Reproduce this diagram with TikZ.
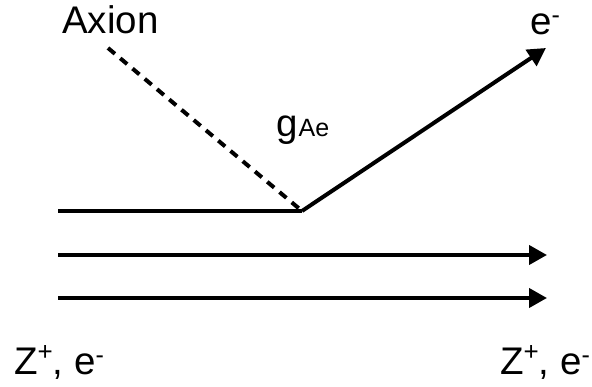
\documentclass[tikz,border=0pt]{standalone}
\usepackage{fontspec}
\setmainfont{Liberation Sans}
\usetikzlibrary{arrows.meta}
\newcommand{\bigtxt}{\fontsize{38.5}{40}\selectfont}
\newcommand{\supplus}{\raisebox{0.38em}{\fontsize{26}{27}\selectfont +}}
\newcommand{\supminus}{\raisebox{0.30em}{\fontsize{25}{26}\selectfont -}}
\begin{document}
\begin{tikzpicture}[x=1pt,y=-1pt,
  lbl/.style={inner sep=0pt,anchor=base west,font=\bigtxt},
  ln/.style={line width=4pt},
  arr/.style={ln,-{Triangle[length=18pt,width=19pt]}}]
\useasboundingbox (0,0) rectangle (592,387);
% coordinates
\coordinate (ax) at (108,48);
\coordinate (v) at (302,211);
\coordinate (e) at (546,48);
\coordinate (l1) at (58,211);
\coordinate (l2s) at (58,255);
\coordinate (l2e) at (547,255);
\coordinate (l3s) at (58,298);
\coordinate (l3e) at (547,298);
% labels
\node[lbl] (axion) at (62,34) {Axion};
\node[lbl] (eout) at (530,35) {e\supminus};
\node[lbl] (g) at (276,137) {g\kern1pt{\fontsize{25}{26}\selectfont Ae}};
\node[lbl] (zl) at (14,375) {Z\supplus, e\supminus};
\node[lbl] (zr) at (500,375) {Z\supplus, e\supminus};
% lines
\draw[ln,dash pattern=on 9pt off 7pt] (ax) -- (v);
\draw[ln] (l1) -- (v);
\draw[arr] (v) -- (e);
\draw[arr] (l2s) -- (l2e);
\draw[arr] (l3s) -- (l3e);
\end{tikzpicture}
\end{document}
